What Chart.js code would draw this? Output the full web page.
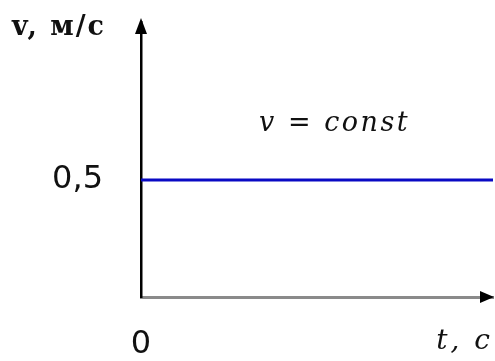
<!DOCTYPE html>
<html>
<head>
<meta charset="utf-8">
<script src="https://cdn.jsdelivr.net/npm/chart.js@4"></script>
<style>
html, body { margin: 0; padding: 0; background: #fff; }
#wrap { width: 495px; height: 361px; }
</style>
</head>
<body>
<div id="wrap"><canvas id="grafico"></canvas></div>
<script>
const tempo = [0, 10];
const velocidade = [0.5, 0.5];
const yTicks = [0.5];
const xTicks = [0];
const yTitle = 'v, м/с';
const xTitle = 't, c';
const note = 'v = const';
const notePos = { x: 5.5, y: 0.74 };

// setas dos eixos e textos
const extras = {
    id: 'extras',
    afterDraw(chart) {
        const { ctx, chartArea: a, scales: { x, y } } = chart;
        ctx.save();
        ctx.fillStyle = '#000';
        ctx.beginPath();
        ctx.moveTo(a.left, a.top - 4);
        ctx.lineTo(a.left - 6, a.top + 12);
        ctx.lineTo(a.left + 6, a.top + 12);
        ctx.closePath();
        ctx.fill();
        ctx.beginPath();
        ctx.moveTo(a.right + 1, a.bottom);
        ctx.lineTo(a.right - 13, a.bottom - 6);
        ctx.lineTo(a.right - 13, a.bottom + 6);
        ctx.closePath();
        ctx.fill();

        ctx.fillStyle = '#111';
        ctx.textBaseline = 'middle';
        ctx.font = '600 27px "DejaVu Serif"';
        ctx.letterSpacing = '2px';
        ctx.textAlign = 'left';
        ctx.fillText(yTitle, 12, 28);

        ctx.font = 'italic 27px "DejaVu Serif"';
        ctx.letterSpacing = '2.5px';
        ctx.textAlign = 'center';
        ctx.fillText(note, x.getPixelForValue(notePos.x), y.getPixelForValue(notePos.y));

        ctx.font = 'italic 28px "DejaVu Serif"';
        ctx.letterSpacing = '3px';
        ctx.textAlign = 'right';
        ctx.fillText(xTitle, x.getPixelForValue(tempo[tempo.length - 1]), 342);
        ctx.restore();
    }
};

new Chart(document.getElementById('grafico'), {
    type: 'line',
    data: {
        datasets: [{
            data: tempo.map((t, i) => ({ x: t, y: velocidade[i] })),
            borderColor: '#0a0ac4',
            borderWidth: 3,
            pointRadius: 0,
            fill: false
        }]
    },
    options: {
        responsive: true,
        maintainAspectRatio: false,
        animation: false,
        layout: { padding: { top: 22, right: 2, left: 0, bottom: 0 } },
        plugins: { legend: { display: false }, tooltip: { enabled: false } },
        scales: {
            x: {
                type: 'linear',
                min: 0,
                max: 10,
                afterBuildTicks: s => { s.ticks = xTicks.map(v => ({ value: v })); },
                afterFit: s => { s.height = 64; s.paddingLeft = 0; s.paddingRight = 0; },
                grid: { display: false, drawTicks: false },
                border: { color: '#8a8a8a', width: 3 },
                ticks: {
                    color: '#111',
                    font: { family: 'DejaVu Sans', size: 32 },
                    padding: 28,
                    maxRotation: 0
                }
            },
            y: {
                min: 0,
                max: 1.175,
                afterBuildTicks: s => { s.ticks = yTicks.map(v => ({ value: v })); },
                afterFit: s => { s.width = 141; s.paddingTop = 0; s.paddingBottom = 0; },
                grid: { display: false, drawTicks: false },
                border: { color: '#000', width: 2.5 },
                ticks: {
                    color: '#111',
                    font: { family: 'DejaVu Sans', size: 32 },
                    padding: 38,
                    callback: v => v.toString().replace('.', ',')
                }
            }
        }
    },
    plugins: [extras]
});
</script>
</body>
</html>
